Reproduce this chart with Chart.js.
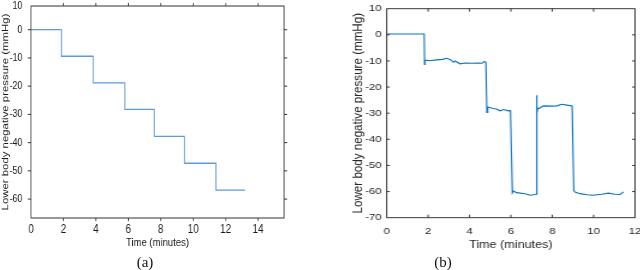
<!DOCTYPE html>
<html><head><meta charset="utf-8">
<script src="https://cdn.jsdelivr.net/npm/chart.js@4"></script>
<style>
html,body{margin:0;padding:0;background:#fff;width:640px;height:270px;overflow:hidden;}
#wa{position:absolute;left:0;top:0;width:390px;height:270px;transform:scaleX(0.8205);transform-origin:0 0;}
#wb{position:absolute;left:320px;top:0;width:267px;height:270px;transform:scaleX(1.2);transform-origin:0 0;}
canvas{display:block;}
.cap{position:absolute;top:254px;line-height:16px;font-family:'Liberation Serif','DejaVu Serif',serif;font-size:15px;color:#111;width:60px;text-align:center;}
</style></head>
<body>
<div id="wa"><canvas id="ca" width="390" height="270"></canvas></div>
<div id="wb"><canvas id="cb" width="267" height="270"></canvas></div>
<div class="cap" style="left:115px">(a)</div>
<div class="cap" style="left:413px">(b)</div>
<script>
// ---- Panel (a): programmed LBNP steps ----
const stepTimesA  = [0, 1.87, 3.83, 5.78, 7.61, 9.46, 11.4, 13.2];
const stepLevelsA = [0, -9.4, -18.8, -28.2, -37.8, -47.3, -56.8, -56.8];
const xTicksA = [0, 2, 4, 6, 8, 10, 12, 14];
const yTicksA = [-60, -50, -40, -30, -20, -10, 0];
const yTopLabelA = '10';

// ---- Panel (b): measured LBNP ----
const timeB = [0, 1.81, 1.83, 1.85, 2.1, 2.4, 2.7, 2.9, 3.1, 3.22, 3.3, 3.54, 3.8, 4.1, 4.4, 4.6, 4.72, 4.79,
  4.84, 4.88, 5.15, 5.3, 5.48, 5.64, 5.88, 5.98,
  6.07, 6.12, 6.28, 6.68, 6.93, 7.17, 7.22,
  7.24, 7.27, 7.3, 7.36, 7.57, 8.0, 8.22, 8.46, 8.7, 8.96,
  9.04, 9.1, 9.34, 9.7, 9.99, 10.39, 10.71, 11.03, 11.28, 11.45];
const pressureB = [0.3, 0.3, -11.3, -9.7, -9.9, -9.6, -9.4, -9.0, -9.6, -10.5, -10.0, -11.1, -10.8, -10.9, -10.8, -10.9, -10.2, -10.5,
  -29.7, -27.6, -28.2, -28.4, -29.1, -28.6, -29.1, -29.0,
  -60.5, -59.8, -60.4, -60.8, -61.4, -61.1, -61.0,
  -23.1, -30.1, -28.0, -28.2, -27.2, -27.3, -27.2, -26.6, -26.9, -27.2,
  -59.6, -60.2, -60.8, -61.2, -61.4, -61.0, -60.6, -61.0, -61.1, -60.1];
const xTicksB = [0, 2, 4, 6, 8, 10, 12];
const yTicksB = [-70, -60, -50, -40, -30, -20, -10, 0, 10];

const yTitle = 'Lower body negative pressure (mmHg)';
const xTitle = 'Time (minutes)';

function framePlugin(o) {
  return { id: 'frame' + o.key, afterDraw(chart) {
    const {ctx, chartArea: a, scales: {x, y}} = chart;
    ctx.save();
    ctx.strokeStyle = o.color; ctx.lineWidth = o.lw;
    ctx.strokeRect(a.left, a.top, a.right - a.left, a.bottom - a.top);
    const d = o.inward ? 1 : -1;
    ctx.beginPath();
    x.ticks.forEach(t => {
      const px = x.getPixelForValue(t.value);
      if (px <= a.left + 0.5 || px >= a.right - 0.5) return;
      ctx.moveTo(px, a.bottom); ctx.lineTo(px, a.bottom - d * o.lenV);
      ctx.moveTo(px, a.top); ctx.lineTo(px, a.top + d * o.lenV);
    });
    y.ticks.forEach(t => {
      const py = y.getPixelForValue(t.value);
      if (py <= a.top + 0.5 || py >= a.bottom - 0.5) return;
      ctx.moveTo(a.left, py); ctx.lineTo(a.left + d * o.lenH, py);
      ctx.moveTo(a.right, py); ctx.lineTo(a.right - d * o.lenH, py);
    });
    ctx.stroke();
    ctx.restore();
  }};
}

const fontA = 'Liberation Sans, Arial, sans-serif';
const yMaxA = 8.4;
new Chart(document.getElementById('ca'), {
  type: 'line',
  data: { datasets: [{
    data: stepTimesA.map((t, i) => ({x: t, y: stepLevelsA[i]})),
    stepped: true, borderColor: '#5b9bdb', borderWidth: 1.3, pointRadius: 0, fill: false
  }]},
  options: {
    responsive: false, animation: false, events: [],
    layout: { padding: { left: 0, right: 43.9, top: 6, bottom: 20.4 } },
    plugins: { legend: {display: false}, tooltip: {enabled: false} },
    scales: {
      x: { type: 'linear', min: 0, max: 15.6,
        afterBuildTicks(s) { s.ticks = xTicksA.map(v => ({value: v})); },
        ticks: { padding: 4.5, font: {family: fontA, size: 12}, color: '#1a1a1a', maxRotation: 0, autoSkip: false },
        grid: { display: false, drawTicks: false, tickLength: 0 }, border: { display: false },
        title: { display: true, text: xTitle, font: {family: fontA, size: 11.6}, color: '#1a1a1a', padding: 0 },
        afterFit(s) { s.height = 31.6; s.paddingLeft = 0; s.paddingRight = 0; } },
      y: { type: 'linear', min: -66.7, max: yMaxA,
        afterBuildTicks(s) { s.ticks = yTicksA.map(v => ({value: v})).concat([{value: yMaxA}]); },
        ticks: { padding: 10.5, font: {family: fontA, size: 10.8}, color: '#1a1a1a', autoSkip: false,
          callback: (v) => v === yMaxA ? yTopLabelA : String(v) },
        grid: { display: false, drawTicks: false, tickLength: 0 }, border: { display: false },
        title: { display: true, text: yTitle, font: {family: fontA, size: 11.4}, color: '#1a1a1a', padding: 0 },
        afterFit(s) { s.width = 37.8; s.paddingTop = 0; s.paddingBottom = 0; } }
    }
  },
  plugins: [framePlugin({key: 'a', color: '#333', lw: 1, inward: false, lenV: 3, lenH: 4})]
});

const fontB = 'Liberation Sans, Arial, sans-serif';
new Chart(document.getElementById('cb'), {
  type: 'line',
  data: { datasets: [{
    data: timeB.map((t, i) => ({x: t, y: pressureB[i]})),
    borderColor: '#0b72c0', borderWidth: 1.1, pointRadius: 0, fill: false, tension: 0
  }]},
  options: {
    responsive: false, animation: false, events: [],
    layout: { padding: { left: 24.9, right: 4.5, top: 8.7, bottom: 18.7 } },
    plugins: { legend: {display: false}, tooltip: {enabled: false} },
    scales: {
      x: { type: 'linear', min: 0, max: 12,
        afterBuildTicks(s) { s.ticks = xTicksB.map(v => ({value: v})); },
        ticks: { padding: 8, font: {family: fontB, size: 9.5}, color: '#262626', maxRotation: 0, autoSkip: false },
        grid: { display: false, drawTicks: false, tickLength: 0 }, border: { display: false },
        title: { display: true, text: xTitle, font: {family: fontB, size: 10.5}, color: '#262626', padding: 0 },
        afterFit(s) { s.height = 33.6; s.paddingLeft = 0; s.paddingRight = 0; } },
      y: { type: 'linear', min: -70, max: 10,
        afterBuildTicks(s) { s.ticks = yTicksB.map(v => ({value: v})); },
        ticks: { padding: 4.2, font: {family: fontB, size: 9.5}, color: '#262626', autoSkip: false,
          callback: (v) => String(v) },
        grid: { display: false, drawTicks: false, tickLength: 0 }, border: { display: false },
        title: { display: true, text: yTitle, font: {family: fontB, size: 11.6}, color: '#262626', padding: 0 },
        afterFit(s) { s.width = 30.7; s.paddingTop = 0; s.paddingBottom = 0; } }
    }
  },
  plugins: [framePlugin({key: 'b', color: '#262626', lw: 0.9, inward: true, lenV: 3, lenH: 2.5})]
});
</script>
</body></html>
